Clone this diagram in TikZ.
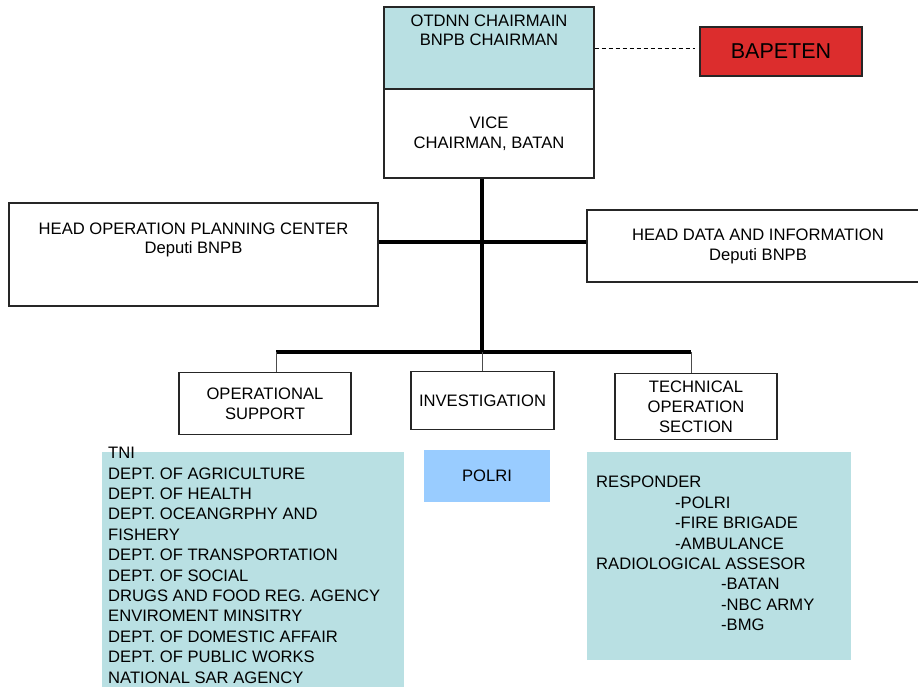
\documentclass[tikz,border=0pt]{standalone}
\usepackage{fontspec}
\setmainfont{Liberation Sans}
\usetikzlibrary{positioning}
\definecolor{panelteal}{HTML}{B9E0E3}
\definecolor{bapetenred}{HTML}{DC2D2D}
\definecolor{polriblue}{HTML}{99CCFF}

\begin{document}
\begin{tikzpicture}[x=1pt,y=-1pt,
  box/.style={draw=black!85,line width=1.1pt,inner sep=0pt,align=center,font=\fontsize{16.6}{20}\selectfont},
  boxtext/.style={inner sep=0pt,align=center,font=\fontsize{16.6}{19.5}\selectfont},
  listtext/.style={inner sep=0pt,align=left,font=\fontsize{16.6}{20.4}\selectfont},
  trunkline/.style={line width=3.8pt},
  sideline/.style={line width=3.2pt},
  dropline/.style={black!70,line width=0.9pt}]
\clip (0,0) rectangle (918,686);
\fill[white] (0,0) rectangle (918,686);

\node[box,fill=panelteal,minimum width=210pt,minimum height=82pt,
  label={[boxtext,anchor=north,yshift=-8pt]north:OTDNN CHAIRMAIN\\BNPB CHAIRMAN}] (chair) at (489,48) {};
\node[box,minimum width=210pt,minimum height=89pt] (vice) at (489,133.5) {VICE\\CHAIRMAN, BATAN};
\node[box,fill=bapetenred,minimum width=162pt,minimum height=49pt,font=\fontsize{21.5}{26}\selectfont] (bapeten) at (781,51.5) {BAPETEN};
\draw[dashed,dash pattern=on 4pt off 3pt,line width=0.9pt] (chair.east) -- ([xshift=-4pt]bapeten.west |- chair.east);

\node[box,minimum width=369pt,minimum height=103pt,
  label={[boxtext,anchor=north,yshift=-20pt]north:HEAD OPERATION PLANNING CENTER\\Deputi BNPB}] (planning) at (193.5,254.5) {};
\node[box,minimum width=342pt,minimum height=72pt] (datainfo) at (758,246) {HEAD DATA AND INFORMATION\\Deputi BNPB};

\coordinate (sidelevel) at (482,242);
\coordinate (busleft) at (276,352);
\coordinate (busmid) at (482,352);
\coordinate (busright) at (691,352);
\draw[trunkline] (vice.south -| busmid) -- (busmid);
\draw[sideline] (planning.east |- sidelevel) -- (datainfo.west |- sidelevel);
\draw[trunkline] (busleft) -- (busright);

\node[box,minimum width=172pt,minimum height=61.5pt] (opsupport) at (265,403.5) {OPERATIONAL\\SUPPORT};
\node[box,minimum width=143pt,minimum height=58pt] (investigation) at (482.5,400.3) {INVESTIGATION};
\node[box,minimum width=162pt,minimum height=66pt] (techop) at (696,406.3) {TECHNICAL\\OPERATION\\SECTION};
\draw[dropline] (busleft) -- (busleft |- opsupport.north);
\draw[dropline] (busmid) -- (busmid |- investigation.north);
\draw[dropline] (busright) -- (busright |- techop.north);

\node[fill=panelteal,inner sep=0pt,minimum width=302pt,minimum height=250pt,anchor=north west,
  label={[listtext,anchor=north west,xshift=6pt,yshift=5pt]north west:TNI\\DEPT. OF AGRICULTURE\\DEPT. OF HEALTH\\DEPT. OCEANGRPHY AND\\FISHERY\\DEPT. OF TRANSPORTATION\\DEPT. OF SOCIAL\\DRUGS AND FOOD REG. AGENCY\\ENVIROMENT MINSITRY\\DEPT. OF DOMESTIC AFFAIR\\DEPT. OF PUBLIC WORKS\\NATIONAL SAR AGENCY}] (oplist) at (102,452) {};
\node[fill=polriblue,inner sep=0pt,minimum width=126pt,minimum height=52.5pt,font=\fontsize{16.6}{20}\selectfont] (polri) at (487,476) {POLRI};
\node[fill=panelteal,inner sep=0pt,minimum width=264pt,minimum height=208pt,anchor=north west,
  label={[listtext,anchor=north west,xshift=9pt,yshift=-24pt]north west:RESPONDER\\\hspace*{79pt}-POLRI\\\hspace*{79pt}-FIRE BRIGADE\\\hspace*{79pt}-AMBULANCE\\RADIOLOGICAL ASSESOR\\\hspace*{125pt}-BATAN\\\hspace*{125pt}-NBC ARMY\\\hspace*{125pt}-BMG}] (techlist) at (587,452) {};
\end{tikzpicture}
\end{document}
